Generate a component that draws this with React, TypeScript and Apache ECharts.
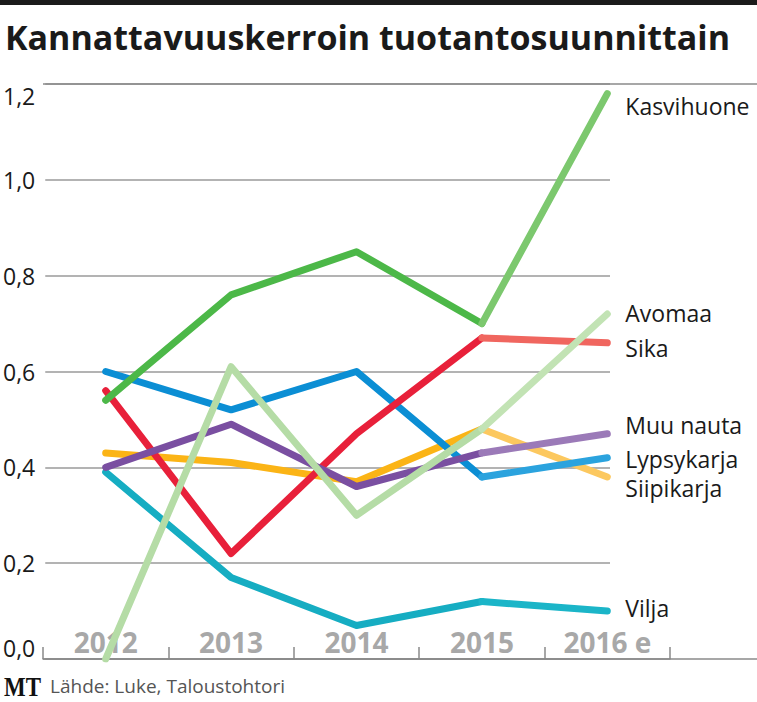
import React, { useEffect, useRef } from "react";
import * as echarts from "echarts";

// Profitability coefficient by production line, 2012–2016 (2016 estimated)
const years = ["2012", "2013", "2014", "2015", "2016 e"];

const kasvihuone = [0.54, 0.76, 0.85, 0.7, 1.18];
const sika = [0.56, 0.22, 0.47, 0.67, 0.66];
const lypsykarja = [0.6, 0.52, 0.6, 0.38, 0.42];
const muuNauta = [0.4, 0.49, 0.36, 0.43, 0.47];
const siipikarja = [0.43, 0.41, 0.37, 0.48, 0.38];
const avomaa = [0.0, 0.61, 0.3, 0.48, 0.72];
const vilja = [0.39, 0.17, 0.07, 0.12, 0.1];

const yTicks = [0, 0.2, 0.4, 0.6, 0.8, 1.0, 1.2];

type Line = {
  name: string;
  values: number[];
  color: string;
  estColor: string;
  labelDy: number;
};

// Drawn bottom to top
const lines: Line[] = [
  { name: "Vilja", values: vilja, color: "#16adc2", estColor: "#1bb5c8", labelDy: -3 },
  { name: "Siipikarja", values: siipikarja, color: "#fbb416", estColor: "#fcc85f", labelDy: 11 },
  { name: "Lypsykarja", values: lypsykarja, color: "#0b8ed4", estColor: "#2ba3de", labelDy: 1 },
  { name: "Sika", values: sika, color: "#e8203a", estColor: "#f0665f", labelDy: 5 },
  { name: "Muu nauta", values: muuNauta, color: "#7a4fa1", estColor: "#9b7ab8", labelDy: -9 },
  { name: "Avomaa", values: avomaa, color: "#b5dca6", estColor: "#c2e3b4", labelDy: -1 },
  { name: "Kasvihuone", values: kasvihuone, color: "#4cb848", estColor: "#7cc86e", labelDy: 12 },
];

const FONT = "'Open Sans', 'Noto Sans', sans-serif";

export default function App() {
  const ref = useRef<HTMLDivElement>(null);

  useEffect(() => {
    if (!ref.current) return;
    const chart = echarts.init(ref.current, undefined, { renderer: "svg" });
    const last = years.length - 1;

    const series: any[] = [];
    lines.forEach((l) => {
      const lineStyle = { width: 7, cap: "round", join: "round" };
      series.push({
        type: "line",
        name: l.name,
        xAxisIndex: 1,
        yAxisIndex: 1,
        data: l.values.map((v, i) => (i < last ? v : null)),
        symbol: "none",
        silent: true,
        lineStyle: { ...lineStyle, color: l.color },
      });
      series.push({
        type: "line",
        name: l.name,
        xAxisIndex: 1,
        yAxisIndex: 1,
        data: l.values.map((v, i) => (i >= last - 1 ? v : null)),
        symbol: "none",
        silent: true,
        lineStyle: { ...lineStyle, color: l.estColor },
        endLabel: {
          show: true,
          formatter: "{a}",
          color: "#1a1a1a",
          fontSize: 23,
          lineHeight: 20,
          fontFamily: FONT,
          distance: 18,
          offset: [0, l.labelDy],
        },
      });
    });

    chart.setOption({
      animation: false,
      grid: [
        { left: 43, right: 147, top: 84, bottom: 43 },
        { left: 43, right: 87, top: 84, bottom: 43 },
        { left: 43, right: 0, top: 84, bottom: 43 },
      ],
      xAxis: [
        { type: "value", gridIndex: 0, show: false, min: 0, max: 1 },
        {
          type: "category",
          gridIndex: 1,
          data: years,
          boundaryGap: true,
          axisLine: { show: true, lineStyle: { color: "#8a8a8a", width: 1.5 } },
          axisTick: { show: true, inside: true, length: 12, lineStyle: { color: "#8a8a8a", width: 1.5 } },
          axisLabel: {
            inside: true,
            margin: 5,
            color: "#a8a8a8",
            fontSize: 28,
            lineHeight: 24,
            fontWeight: "bold",
            fontFamily: FONT,
          },
        },
        { type: "value", gridIndex: 2, show: false, min: 0, max: 1 },
      ],
      yAxis: [
        {
          type: "value",
          gridIndex: 0,
          min: yTicks[0],
          max: yTicks[yTicks.length - 1],
          interval: 0.2,
          axisLine: { show: false },
          axisTick: { show: false },
          splitLine: { show: true, lineStyle: { color: "#9a9a9a", width: 1.5 } },
          axisLabel: {
            margin: 10,
            color: "#1a1a1a",
            fontSize: 23,
            fontFamily: FONT,
            verticalAlignMinLabel: "bottom",
            verticalAlignMaxLabel: "top",
            formatter: (v: number) => v.toFixed(1).replace(".", ","),
          },
        },
        { type: "value", gridIndex: 1, show: false, min: 0, max: 1.2 },
        {
          type: "value",
          gridIndex: 2,
          min: 0,
          max: 1.2,
          interval: 1.2,
          axisLine: { show: false },
          axisTick: { show: false },
          axisLabel: { show: false },
          splitLine: { show: true, lineStyle: { color: "#8a8a8a", width: 1.5 } },
        },
      ],
      series,
      graphic: [
        { type: "rect", left: 0, top: 0, shape: { width: 757, height: 5 }, style: { fill: "#1b1b1b" } },
        {
          type: "text",
          left: 5,
          top: 20,
          style: {
            text: "Kannattavuuskerroin tuotantosuunnittain",
            font: `bold 34px ${FONT}`,
            fill: "#1a1a1a",
          },
        },
        {
          type: "text",
          x: 4,
          y: 673,
          scaleX: 0.85,
          style: { text: "MT", font: "bold 27px 'Liberation Serif', serif", fill: "#111" },
        },
        {
          type: "text",
          left: 50,
          top: 676,
          style: { text: "Lähde: Luke, Taloustohtori", font: `19px ${FONT}`, fill: "#555" },
        },
      ],
    });

    return () => chart.dispose();
  }, []);

  return (
    <div
      ref={ref}
      style={{ position: "fixed", left: 0, top: 0, width: 757, height: 702, background: "#fff" }}
    />
  );
}
